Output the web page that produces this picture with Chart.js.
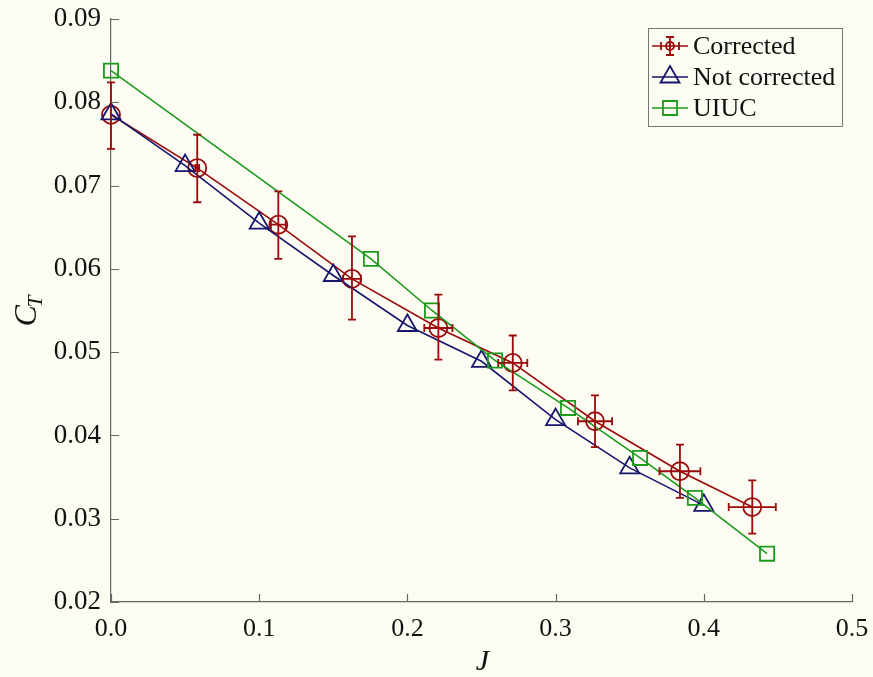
<!DOCTYPE html>
<html>
<head>
<meta charset="utf-8">
<script src="https://cdn.jsdelivr.net/npm/chart.js@4/dist/chart.umd.min.js"></script>
<style>
  html, body { margin: 0; padding: 0; background: #fcfcf3; }
  #wrap { width: 873px; height: 677px; }
</style>
</head>
<body>
<div id="wrap"><canvas id="c" width="873" height="677"></canvas></div>
<script>
// Thrust coefficient C_T versus advance ratio J
const correctedJ      = [0, 0.0582, 0.1129, 0.1626, 0.2209, 0.2711, 0.3266, 0.3839, 0.4327];
const correctedCT     = [0.0785, 0.0721, 0.0653, 0.0588, 0.0529, 0.0487, 0.0417, 0.0357, 0.0314];
const correctedCTLow  = [0.0744, 0.0680, 0.0612, 0.0539, 0.0491, 0.0454, 0.0386, 0.0325, 0.0282];
const correctedCTHigh = [0.0824, 0.0761, 0.0693, 0.0639, 0.0569, 0.0520, 0.0448, 0.0389, 0.0346];
const correctedJErr   = [0, 0.0013, 0.005, 0.006, 0.0095, 0.0098, 0.0115, 0.0138, 0.0159];

const notCorrectedJ  = [0, 0.05, 0.1, 0.15, 0.2, 0.25, 0.3, 0.35, 0.4];
const notCorrectedCT = [0.0786, 0.0724, 0.0655, 0.0592, 0.0532, 0.0489, 0.0419, 0.0361, 0.0316];

const uiucJ  = [0, 0.1754, 0.2166, 0.2591, 0.3084, 0.357, 0.394, 0.4427];
const uiucCT = [0.0838, 0.0612, 0.0550, 0.0490, 0.0433, 0.0373, 0.0325, 0.0258];

const xTicks = [0, 0.1, 0.2, 0.3, 0.4, 0.5];
const yTicks = [0.02, 0.03, 0.04, 0.05, 0.06, 0.07, 0.08, 0.09];

const seriesNames = ['Corrected', 'Not corrected', 'UIUC'];

const RED = '#9a0a0a', BLUE = '#16166e', GREEN = '#1c9a1c';
const BG = '#fcfcf3', AXIS = '#666666';
const SERIF = '"Liberation Serif", "DejaVu Serif", serif';

const pts = (xs, ys) => xs.map((x, i) => ({ x: x, y: ys[i] }));

// Error bars for the corrected series (vertical CT range, horizontal J spread)
const errorBars = {
  id: 'errorBars',
  afterDatasetsDraw(chart) {
    const { ctx, scales: { x, y } } = chart;
    ctx.save();
    ctx.strokeStyle = RED;
    ctx.lineWidth = 1.8;
    const cap = 4;
    correctedJ.forEach((j, i) => {
      const px = x.getPixelForValue(j);
      const py = y.getPixelForValue(correctedCT[i]);
      const yHi = y.getPixelForValue(correctedCTHigh[i]);
      const yLo = y.getPixelForValue(correctedCTLow[i]);
      ctx.beginPath();
      ctx.moveTo(px, yHi); ctx.lineTo(px, yLo);
      ctx.moveTo(px - cap, yHi); ctx.lineTo(px + cap, yHi);
      ctx.moveTo(px - cap, yLo); ctx.lineTo(px + cap, yLo);
      if (correctedJErr[i] > 0) {
        const xL = x.getPixelForValue(j - correctedJErr[i]);
        const xR = x.getPixelForValue(j + correctedJErr[i]);
        ctx.moveTo(xL, py); ctx.lineTo(xR, py);
        ctx.moveTo(xL, py - cap); ctx.lineTo(xL, py + cap);
        ctx.moveTo(xR, py - cap); ctx.lineTo(xR, py + cap);
      }
      ctx.stroke();
    });
    ctx.restore();
  }
};

// Inward tick marks, axis titles and boxed legend
const decorations = {
  id: 'decorations',
  beforeDraw(chart) {
    const { ctx, width, height } = chart;
    ctx.save();
    ctx.fillStyle = BG;
    ctx.fillRect(0, 0, width, height);
    ctx.restore();
  },
  afterDraw(chart) {
    const { ctx, chartArea: a, scales: { x, y } } = chart;
    ctx.save();
    ctx.strokeStyle = AXIS;
    ctx.lineWidth = 1.2;
    ctx.beginPath();
    x.ticks.forEach(t => {
      const px = Math.round(x.getPixelForValue(t.value)) + 0.5;
      ctx.moveTo(px, a.bottom); ctx.lineTo(px, a.bottom - 8);
    });
    y.ticks.forEach(t => {
      const py = Math.round(y.getPixelForValue(t.value)) + 0.5;
      ctx.moveTo(a.left, py); ctx.lineTo(a.left + 8, py);
    });
    ctx.stroke();

    // axis titles
    ctx.fillStyle = '#111';
    ctx.textBaseline = 'alphabetic';
    ctx.font = 'italic 30px ' + SERIF;
    ctx.textAlign = 'center';
    ctx.fillText('J', (a.left + a.right) / 2 + 1, 670);

    ctx.save();
    ctx.translate(36, 310);
    ctx.rotate(-Math.PI / 2);
    ctx.font = 'italic 32px ' + SERIF;
    const cw = ctx.measureText('C').width;
    ctx.font = 'italic 21px ' + SERIF;
    const tw = ctx.measureText('T').width;
    const start = -(cw + tw) / 2;
    ctx.textAlign = 'left';
    ctx.font = 'italic 32px ' + SERIF;
    ctx.fillText('C', start, 0);
    ctx.font = 'italic 21px ' + SERIF;
    ctx.fillText('T', start + cw - 2, 6);
    ctx.restore();

    // legend
    const box = { l: 648.5, t: 28.5, r: 842.5, b: 126.5 };
    ctx.fillStyle = BG;
    ctx.fillRect(box.l, box.t, box.r - box.l, box.b - box.t);
    ctx.strokeStyle = '#777';
    ctx.lineWidth = 1;
    ctx.strokeRect(box.l, box.t, box.r - box.l, box.b - box.t);
    const rows = [46, 77, 108];
    const colors = [RED, BLUE, GREEN];
    rows.forEach((ry, i) => {
      const c = colors[i];
      ctx.strokeStyle = c;
      ctx.lineWidth = 1.6;
      ctx.beginPath();
      ctx.moveTo(652, ry); ctx.lineTo(688, ry);
      ctx.stroke();
      const mx = 670;
      ctx.lineWidth = 1.8;
      ctx.beginPath();
      if (i === 0) {
        ctx.moveTo(mx, ry - 9); ctx.lineTo(mx, ry + 9);
        ctx.moveTo(mx - 4, ry - 9); ctx.lineTo(mx + 4, ry - 9);
        ctx.moveTo(mx - 4, ry + 9); ctx.lineTo(mx + 4, ry + 9);
        ctx.moveTo(mx - 9, ry - 4); ctx.lineTo(mx - 9, ry + 4);
        ctx.moveTo(mx + 9, ry - 4); ctx.lineTo(mx + 9, ry + 4);
        ctx.stroke();
        ctx.beginPath();
        ctx.arc(mx, ry, 4, 0, Math.PI * 2);
      } else if (i === 1) {
        ctx.moveTo(mx, ry - 11);
        ctx.lineTo(mx + 9.5, ry + 5.5);
        ctx.lineTo(mx - 9.5, ry + 5.5);
        ctx.closePath();
      } else {
        ctx.rect(mx - 7, ry - 7, 14, 14);
      }
      ctx.stroke();
      ctx.fillStyle = '#111';
      ctx.font = '26px ' + SERIF;
      ctx.textAlign = 'left';
      ctx.textBaseline = 'middle';
      ctx.fillText(seriesNames[i], 693, ry + 1);
    });
    ctx.restore();
  }
};

new Chart(document.getElementById('c'), {
  type: 'scatter',
  data: {
    datasets: [
      {
        label: seriesNames[0], data: pts(correctedJ, correctedCT), showLine: true,
        borderColor: RED, backgroundColor: 'rgba(0,0,0,0)', borderWidth: 1.6,
        pointStyle: 'circle', pointRadius: 9, pointBorderWidth: 1.8,
        pointBorderColor: RED, pointBackgroundColor: 'rgba(0,0,0,0)', clip: false, order: 3
      },
      {
        label: seriesNames[1], data: pts(notCorrectedJ, notCorrectedCT), showLine: true,
        borderColor: BLUE, backgroundColor: 'rgba(0,0,0,0)', borderWidth: 1.6,
        pointStyle: 'triangle', pointRadius: 11, pointBorderWidth: 1.8,
        pointBorderColor: BLUE, pointBackgroundColor: 'rgba(0,0,0,0)', clip: false, order: 2
      },
      {
        label: seriesNames[2], data: pts(uiucJ, uiucCT), showLine: true,
        borderColor: GREEN, backgroundColor: 'rgba(0,0,0,0)', borderWidth: 1.6,
        pointStyle: 'rect', pointRadius: 10, pointBorderWidth: 1.8,
        pointBorderColor: GREEN, pointBackgroundColor: 'rgba(0,0,0,0)', clip: false, order: 1
      }
    ]
  },
  options: {
    responsive: false,
    animation: false,
    devicePixelRatio: 1,
    layout: { padding: { left: 0, right: 21, top: 19, bottom: 0 } },
    plugins: { legend: { display: false }, tooltip: { enabled: false } },
    scales: {
      x: {
        type: 'linear', min: 0, max: 0.5,
        afterBuildTicks: s => { s.ticks = xTicks.map(v => ({ value: v })); },
        afterFit: s => { s.height = 75; s.paddingLeft = 0; s.paddingRight = 0; },
        grid: { display: false, drawTicks: false },
        border: { display: true, color: AXIS, width: 1.2 },
        ticks: {
          padding: 12, color: '#111',
          font: { family: SERIF, size: 26 },
          callback: v => Number(v).toFixed(1),
          maxRotation: 0, autoSkip: false
        }
      },
      y: {
        type: 'linear', min: 0.02, max: 0.09,
        afterBuildTicks: s => { s.ticks = yTicks.map(v => ({ value: v })); },
        afterFit: s => { s.width = 111; s.paddingTop = 0; s.paddingBottom = 0; },
        grid: { display: false, drawTicks: false },
        border: { display: true, color: AXIS, width: 1.2 },
        ticks: {
          padding: 10, color: '#111',
          font: { family: SERIF, size: 27 },
          callback: v => Number(v).toFixed(2),
          autoSkip: false
        }
      }
    }
  },
  plugins: [errorBars, decorations]
});
</script>
</body>
</html>
